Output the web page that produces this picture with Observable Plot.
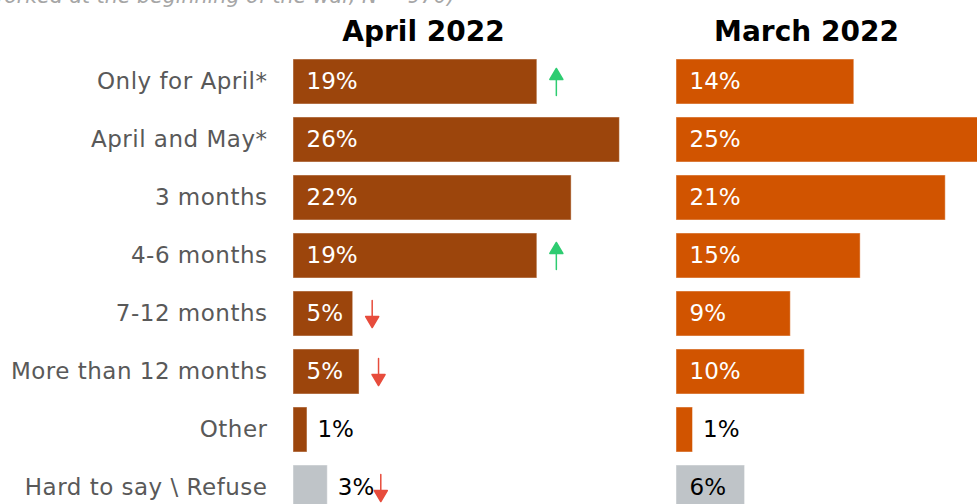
<!DOCTYPE html>
<html>
<head>
<meta charset="utf-8">
<script src="https://cdn.jsdelivr.net/npm/d3@7"></script>
<script src="https://cdn.jsdelivr.net/npm/@observablehq/plot@0.6"></script>
<style>
  html, body { margin: 0; padding: 0; overflow: hidden; background: #fff; width: 977px; height: 504px; }
  #wrap { position: relative; width: 977px; height: 504px; overflow: hidden; }
  #subtitle { position: absolute; z-index: 2; right: 522px; top: -15px; white-space: nowrap; font: italic 20.6px "DejaVu Sans", sans-serif; line-height: 22px; color: #a6a6a6; }
  #chart { position: absolute; z-index: 1; left: 0; top: 0; width: 1016px; }
  #chart svg { max-width: none; }
  #chart g[aria-label="y-axis tick label"] text { letter-spacing: 0.5px; }
</style>
</head>
<body>
<div id="wrap">
  <div id="subtitle">(% of those who worked at the beginning of the war, N = 970)</div>
  <div id="chart"></div>
</div>
<script>
const categories = ["Only for April*", "April and May*", "3 months", "4-6 months", "7-12 months", "More than 12 months", "Other", "Hard to say \\ Refuse"];
const periods = ["April 2022", "March 2022"];
const aprilLabels = [19, 26, 22, 19, 5, 5, 1, 3];
const aprilBars = [19.2, 25.7, 21.9, 19.2, 4.7, 5.2, 1.1, 2.7];
const marchLabels = [14, 25, 21, 15, 9, 10, 1, 6];
const marchBars = [14.0, 25.0, 21.2, 14.5, 9.0, 10.1, 1.3, 5.4];
const changeCats = ["Only for April*", "4-6 months", "7-12 months", "More than 12 months", "Hard to say \\ Refuse"];
const changeDirs = ["up", "up", "down", "down", "down"];

const refuse = "Hard to say \\ Refuse";
const rows = [];
categories.forEach((c, i) => {
  rows.push({period: periods[0], cat: c, bar: aprilBars[i], label: aprilLabels[i]});
  rows.push({period: periods[1], cat: c, bar: marchBars[i], label: marchLabels[i]});
});
rows.forEach(d => {
  d.group = d.cat === refuse ? "refuse" : d.period;
  d.inside = d.label >= 4;
});
const changes = changeCats.map((c, i) => {
  const r = rows.find(d => d.period === periods[0] && d.cat === c);
  return {period: periods[0], cat: c, bar: r.bar, dir: changeDirs[i], outside: !r.inside};
});

const arrowShape = {
  draw(context, l, r) {
    const h = 11, w = 6.5;
    context.moveTo(0, 0);
    context.lineTo(0, -l + h);
    context.moveTo(-w, -l + h);
    context.lineTo(0, -l);
    context.lineTo(w, -l + h);
    context.closePath();
  }
};
const arrowColor = d => d.dir === "up" ? "#2ecc71" : "#e74c3c";
const arrowOpts = {x: "bar", y: "cat", fx: "period", length: 27, anchor: "middle", shape: arrowShape,
  rotate: d => d.dir === "up" ? 0 : 180, stroke: arrowColor, fill: arrowColor, strokeWidth: 1.5};

const font = "DejaVu Sans, sans-serif";
const chart = Plot.plot({
  width: 1016,
  height: 525,
  marginLeft: 293,
  marginRight: 0,
  marginTop: 46,
  marginBottom: 2,
  style: {fontFamily: font, background: "transparent"},
  fx: {domain: periods, paddingInner: 43 / 383, paddingOuter: 0, label: null},
  x: {domain: [0, 340 / 12.7], axis: null},
  y: {domain: categories, padding: 0.224, label: null},
  color: {domain: ["April 2022", "March 2022", "refuse"], range: ["#9c450c", "#d15400", "#bfc4c8"]},
  marks: [
    Plot.axisFx({anchor: "top", label: null, tickSize: 0, tickPadding: 6, fontSize: 28, fontWeight: "bold", color: "black", dx: -40}),
    Plot.axisY({anchor: "left", label: null, tickSize: 0, tickPadding: 26, fontSize: 23, color: "#595959"}),
    Plot.barX(rows, {x: "bar", y: "cat", fx: "period", fill: "group", stroke: "white", strokeOpacity: 0.45, strokeWidth: 1}),
    Plot.text(rows.filter(d => d.inside), {x: 0, y: "cat", fx: "period", text: d => d.label + "%", textAnchor: "start", dx: 13, fontSize: 23, fill: d => d.group === "refuse" ? "black" : "white"}),
    Plot.text(rows.filter(d => !d.inside), {x: "bar", y: "cat", fx: "period", text: d => d.label + "%", textAnchor: "start", dx: 10, fontSize: 23, fill: "black"}),
    Plot.vector(changes.filter(d => !d.outside), {...arrowOpts, dx: 19}),
    Plot.vector(changes.filter(d => d.outside), {...arrowOpts, dx: 53})
  ]
});
document.getElementById("chart").appendChild(chart);
</script>
</body>
</html>
